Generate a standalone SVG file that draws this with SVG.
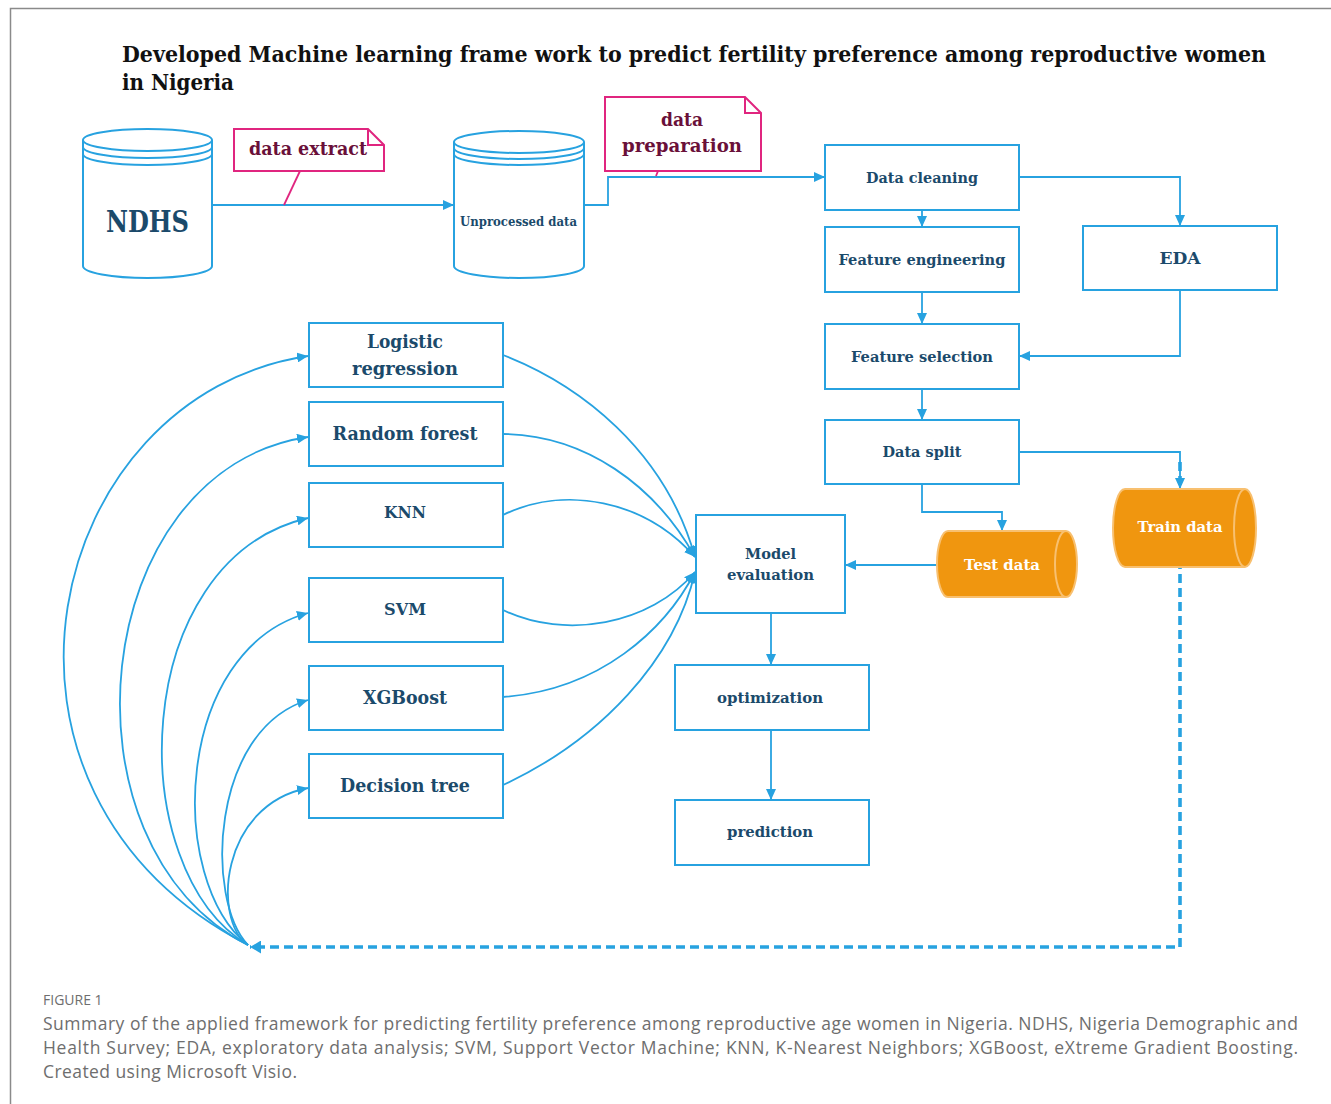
<svg xmlns="http://www.w3.org/2000/svg" width="1331" height="1104" viewBox="0 0 1331 1104">
  <style>
    .box { fill: #ffffff; stroke: #27a2e0; stroke-width: 2; }
    .lbl { font-family: "DejaVu Serif", "Liberation Serif", serif; font-weight: bold; fill: #1b4a6b; text-anchor: middle; dominant-baseline: central; }
    .note { fill: #ffffff; stroke: #e0257f; stroke-width: 2; }
    .notetxt { font-family: "DejaVu Serif", "Liberation Serif", serif; font-weight: bold; fill: #6a1039; text-anchor: middle; dominant-baseline: central; }
    .cyl { fill: #ffffff; stroke: #27a2e0; stroke-width: 2; }
    .drum { fill: #f0960f; stroke: #f8c070; stroke-width: 2; }
    .drumtxt { font-family: "DejaVu Serif", "Liberation Serif", serif; font-weight: bold; fill: #ffffff; text-anchor: middle; dominant-baseline: central; }
    .link { fill: none; stroke: #27a2e0; stroke-width: 1.8; }
    .title { font-family: "DejaVu Serif", "Liberation Serif", serif; font-weight: bold; fill: #111111; }
    .cap { font-family: "Open Sans", "Liberation Sans", sans-serif; fill: #6e6e6e; }
  </style>
  <defs>
    <marker id="arr" markerUnits="userSpaceOnUse" markerWidth="11" markerHeight="10" viewBox="0 0 11 10" refX="11" refY="5" orient="auto">
      <path d="M0,0 L11,5 L0,10 z" fill="#27a2e0"/>
    </marker>
    <marker id="arrBig" markerUnits="userSpaceOnUse" markerWidth="11" markerHeight="13" viewBox="0 0 11 13" refX="11" refY="6.5" orient="auto">
      <path d="M0,0 L11,6.5 L0,13 z" fill="#27a2e0"/>
    </marker>
  </defs>

  <!-- frame -->
  <path d="M10.5,1104 V8.5 H1331" fill="none" stroke="#8a8a8a" stroke-width="1.5"/>

  <!-- title -->
  <text class="title" x="122" y="62" font-size="21.5" textLength="1144" lengthAdjust="spacingAndGlyphs">Developed Machine learning frame work to predict fertility preference among reproductive women</text>
  <text class="title" x="122" y="90" font-size="21.5" textLength="112" lengthAdjust="spacingAndGlyphs">in Nigeria</text>

  <!-- connectors -->
  <g id="connectors">
    <!-- train data feedback loop (dashed) -->
    <path d="M1180,462 V947 H250" fill="none" stroke="#27a2e0" stroke-width="3.6" stroke-dasharray="9 5" marker-end="url(#arrBig)"/>
    <!-- data flow -->
    <path class="link" d="M212,205 H454" marker-end="url(#arr)"/>
    <path class="link" d="M584,205 H608 V177 H825" marker-end="url(#arr)"/>
    <path class="link" d="M922,210 V227" marker-end="url(#arr)"/>
    <path class="link" d="M1019,177 H1180 V226" marker-end="url(#arr)"/>
    <path class="link" d="M922,292 V324" marker-end="url(#arr)"/>
    <path class="link" d="M1180,290 V356 H1019" marker-end="url(#arr)"/>
    <path class="link" d="M922,389 V420" marker-end="url(#arr)"/>
    <path class="link" d="M1019,452 H1180 V489" marker-end="url(#arr)"/>
    <path class="link" d="M922,484 V512 H1002 V531" marker-end="url(#arr)"/>
    <path class="link" d="M937,565 H845" marker-end="url(#arr)"/>
    <path class="link" d="M771,613 V665" marker-end="url(#arr)"/>
    <path class="link" d="M771,730 V800" marker-end="url(#arr)"/>
    <!-- models to evaluation -->
    <path class="link" d="M503,355 C580,385 665,450 695,557" marker-end="url(#arr)"/>
    <path class="link" d="M503,434 C585,435 655,485 695,557" marker-end="url(#arr)"/>
    <path class="link" d="M503,515 C565,485 645,500 695,557" marker-end="url(#arr)"/>
    <path class="link" d="M503,610 C565,640 650,625 695,572" marker-end="url(#arr)"/>
    <path class="link" d="M503,697 C600,690 665,630 695,572" marker-end="url(#arr)"/>
    <path class="link" d="M503,785 C600,740 675,660 695,572" marker-end="url(#arr)"/>
    <!-- training data fanned out to each model -->
    <path class="link" d="M248,945 C-50,790 45,395 308,356" marker-end="url(#arr)"/>
    <path class="link" d="M248,945 C52,845 88,470 308,437" marker-end="url(#arr)"/>
    <path class="link" d="M248,945 C122,870 128,560 308,518" marker-end="url(#arr)"/>
    <path class="link" d="M248,945 C166,880 174,650 308,613" marker-end="url(#arr)"/>
    <path class="link" d="M248,945 C205,900 210,730 308,700" marker-end="url(#arr)"/>
    <path class="link" d="M248,945 C212,920 220,805 308,788" marker-end="url(#arr)"/>
    <!-- callout pointers -->
    <path d="M300,171 L284,205" fill="none" stroke="#e0257f" stroke-width="1.8"/>
    <path d="M658,171 L656,176" fill="none" stroke="#e0257f" stroke-width="1.8"/>
  </g>

  <!-- data sources -->
  <g id="ndhs">
    <path class="cyl" d="M83,140 V266 A64.5,12 0 0 0 212,266 V140"/>
    <ellipse class="cyl" cx="147.5" cy="140" rx="64.5" ry="11"/>
    <path class="cyl" d="M83,147 A64.5,11 0 0 0 212,147 M83,154 A64.5,11 0 0 0 212,154" style="fill:none"/>
    <text class="lbl" x="147.5" y="222" font-size="29" textLength="83" lengthAdjust="spacingAndGlyphs">NDHS</text>
  </g>
  <g id="unprocessed-data">
    <path class="cyl" d="M454,142 V266 A65,12 0 0 0 584,266 V142"/>
    <ellipse class="cyl" cx="519" cy="142" rx="65" ry="11"/>
    <path class="cyl" d="M454,148 A65,11 0 0 0 584,148 M454,154 A65,11 0 0 0 584,154" style="fill:none"/>
    <text class="lbl" x="518.5" y="222" font-size="12" textLength="117" lengthAdjust="spacingAndGlyphs">Unprocessed data</text>
  </g>

  <!-- callouts -->
  <g id="note-data-extract">
    <path class="note" d="M234,129 H368 L384,145 V171 H234 Z M368,129 V145 H384"/>
    <text class="notetxt" x="308" y="148" font-size="19" textLength="118" lengthAdjust="spacingAndGlyphs">data extract</text>
  </g>
  <g id="note-data-preparation">
    <path class="note" d="M605,97 H745 L761,113 V171 H605 Z M745,97 V113 H761"/>
    <text class="notetxt" x="682" y="119" font-size="19" textLength="42" lengthAdjust="spacingAndGlyphs">data</text>
    <text class="notetxt" x="682" y="145" font-size="19" textLength="120" lengthAdjust="spacingAndGlyphs">preparation</text>
  </g>

  <!-- preprocessing pipeline -->
  <g id="data-cleaning">
    <rect class="box" x="825" y="145" width="194" height="65"/>
    <text class="lbl" x="922" y="177" font-size="15.5" textLength="112" lengthAdjust="spacingAndGlyphs">Data cleaning</text>
  </g>
  <g id="feature-engineering">
    <rect class="box" x="825" y="227" width="194" height="65"/>
    <text class="lbl" x="922" y="259" font-size="15.5" textLength="167" lengthAdjust="spacingAndGlyphs">Feature engineering</text>
  </g>
  <g id="eda">
    <rect class="box" x="1083" y="226" width="194" height="64"/>
    <text class="lbl" x="1180" y="258" font-size="17" textLength="41" lengthAdjust="spacingAndGlyphs">EDA</text>
  </g>
  <g id="feature-selection">
    <rect class="box" x="825" y="324" width="194" height="65"/>
    <text class="lbl" x="922" y="356" font-size="15.5" textLength="142" lengthAdjust="spacingAndGlyphs">Feature selection</text>
  </g>
  <g id="data-split">
    <rect class="box" x="825" y="420" width="194" height="64"/>
    <text class="lbl" x="922" y="451" font-size="15.5" textLength="79" lengthAdjust="spacingAndGlyphs">Data split</text>
  </g>

  <!-- data partitions -->
  <g id="train-data">
    <path class="drum" d="M1125,489 H1245 A11,39 0 0 1 1245,567 H1125 A12,39 0 0 1 1125,489 Z"/>
    <path d="M1245,489 A11,39 0 0 0 1245,567" fill="none" stroke="#f8c070" stroke-width="2"/>
    <text class="drumtxt" x="1180" y="526" font-size="15.5" textLength="85" lengthAdjust="spacingAndGlyphs">Train data</text>
  </g>
  <g id="test-data">
    <path class="drum" d="M948,531 H1066 A11,33 0 0 1 1066,597 H948 A11,33 0 0 1 948,531 Z"/>
    <path d="M1066,531 A11,33 0 0 0 1066,597" fill="none" stroke="#f8c070" stroke-width="2"/>
    <text class="drumtxt" x="1002" y="564" font-size="15.5" textLength="76" lengthAdjust="spacingAndGlyphs">Test data</text>
  </g>

  <!-- evaluation chain -->
  <g id="model-evaluation">
    <rect class="box" x="696" y="515" width="149" height="98"/>
    <text class="lbl" x="770.5" y="553" font-size="15.5" textLength="51" lengthAdjust="spacingAndGlyphs">Model</text>
    <text class="lbl" x="770.5" y="574" font-size="15.5" textLength="87" lengthAdjust="spacingAndGlyphs">evaluation</text>
  </g>
  <g id="optimization">
    <rect class="box" x="675" y="665" width="194" height="65"/>
    <text class="lbl" x="770" y="697" font-size="15.5" textLength="106" lengthAdjust="spacingAndGlyphs">optimization</text>
  </g>
  <g id="prediction">
    <rect class="box" x="675" y="800" width="194" height="65"/>
    <text class="lbl" x="770" y="831" font-size="15.5" textLength="86" lengthAdjust="spacingAndGlyphs">prediction</text>
  </g>

  <!-- models -->
  <g id="logistic-regression">
    <rect class="box" x="309" y="323" width="194" height="64"/>
    <text class="lbl" x="405" y="341" font-size="18" textLength="76" lengthAdjust="spacingAndGlyphs">Logistic</text>
    <text class="lbl" x="405" y="368" font-size="18" textLength="106" lengthAdjust="spacingAndGlyphs">regression</text>
  </g>
  <g id="random-forest">
    <rect class="box" x="309" y="402" width="194" height="64"/>
    <text class="lbl" x="405" y="433" font-size="18" textLength="145" lengthAdjust="spacingAndGlyphs">Random forest</text>
  </g>
  <g id="knn">
    <rect class="box" x="309" y="483" width="194" height="64"/>
    <text class="lbl" x="405" y="512" font-size="17" textLength="42" lengthAdjust="spacingAndGlyphs">KNN</text>
  </g>
  <g id="svm">
    <rect class="box" x="309" y="578" width="194" height="64"/>
    <text class="lbl" x="405" y="609" font-size="17" textLength="42" lengthAdjust="spacingAndGlyphs">SVM</text>
  </g>
  <g id="xgboost">
    <rect class="box" x="309" y="666" width="194" height="64"/>
    <text class="lbl" x="405" y="697" font-size="18" textLength="84" lengthAdjust="spacingAndGlyphs">XGBoost</text>
  </g>
  <g id="decision-tree">
    <rect class="box" x="309" y="754" width="194" height="64"/>
    <text class="lbl" x="405" y="785" font-size="18" textLength="130" lengthAdjust="spacingAndGlyphs">Decision tree</text>
  </g>

  <!-- caption -->
  <text class="cap" x="43" y="1005" font-size="14">FIGURE 1</text>
  <text class="cap" x="43" y="1030" font-size="17.5" textLength="1255" lengthAdjust="spacing">Summary of the applied framework for predicting fertility preference among reproductive age women in Nigeria. NDHS, Nigeria Demographic and</text>
  <text class="cap" x="43" y="1054" font-size="17.5" textLength="1255" lengthAdjust="spacing">Health Survey; EDA, exploratory data analysis; SVM, Support Vector Machine; KNN, K-Nearest Neighbors; XGBoost, eXtreme Gradient Boosting.</text>
  <text class="cap" x="43" y="1078" font-size="17.5" textLength="254" lengthAdjust="spacing">Created using Microsoft Visio.</text>
</svg>
